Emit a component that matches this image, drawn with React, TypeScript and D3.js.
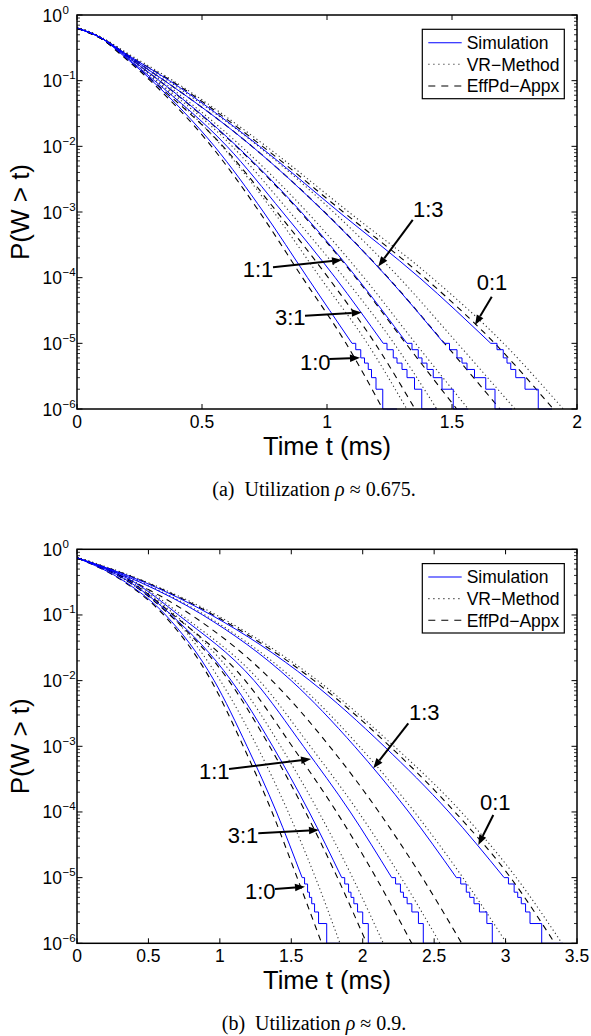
import React from "react";
import * as d3 from "d3";

type Pt = [number, number];
type Note = { label: string; text: Pt; from: Pt; to: Pt };

// order of the curves in every group below: 1:0, 3:1, 1:1, 1:3, 0:1

// ---------- (a) utilization 0.675 ----------
const xTicksA = [0, 0.5, 1, 1.5, 2];

const simA: Pt[][] = [
  [[0, 0.63], [0.1, 0.44], [0.18, 0.25], [0.3, 0.1], [0.55, 0.01], [0.746, 1e-3], [0.922, 1e-4], [1.1, 1e-5]],
  [[0, 0.63], [0.1, 0.44], [0.185, 0.25], [0.31, 0.1], [0.6, 0.01], [0.822, 1e-3], [1.033, 1e-4], [1.225, 1e-5]],
  [[0, 0.63], [0.1, 0.44], [0.19, 0.25], [0.33, 0.1], [0.64, 0.01], [0.897, 1e-3], [1.119, 1e-4], [1.32, 1e-5]],
  [[0, 0.63], [0.1, 0.44], [0.195, 0.25], [0.35, 0.1], [0.7, 0.01], [0.989, 1e-3], [1.243, 1e-4], [1.468, 1e-5]],
  [[0, 0.63], [0.1, 0.44], [0.2, 0.25], [0.37, 0.1], [0.73, 0.01], [1.048, 1e-3], [1.37, 1e-4], [1.655, 1e-5]],
];

// stair-shaped tails of the simulated curves (few samples left)
const simTailA: Pt[][] = [
  [[1.1, 1e-5], [1.115, 8e-6], [1.135, 6e-6], [1.15, 5e-6], [1.165, 4e-6], [1.178, 3e-6], [1.196, 2e-6], [1.223, 1e-6], [1.28, 1e-6]],
  [[1.225, 1e-5], [1.24, 8e-6], [1.265, 6e-6], [1.28, 5e-6], [1.3, 4e-6], [1.32, 3e-6], [1.35, 2e-6], [1.379, 1e-6], [1.44, 1e-6]],
  [[1.32, 1e-5], [1.34, 8e-6], [1.365, 6e-6], [1.38, 5e-6], [1.4, 4e-6], [1.425, 3e-6], [1.46, 2e-6], [1.505, 1e-6], [1.565, 1e-6]],
  [[1.468, 1e-5], [1.49, 8e-6], [1.52, 6e-6], [1.54, 5e-6], [1.56, 4e-6], [1.59, 3e-6], [1.635, 2e-6], [1.672, 1e-6], [1.74, 1e-6]],
  [[1.655, 1e-5], [1.68, 8e-6], [1.705, 6e-6], [1.72, 5e-6], [1.735, 4e-6], [1.755, 3e-6], [1.792, 2e-6], [1.845, 1e-6], [1.9, 1e-6]],
];

const vrA: Pt[][] = [
  [[0, 0.65], [0.1, 0.45], [0.19, 0.25], [0.317, 0.1], [0.58, 0.01], [0.787, 1e-3], [0.973, 1e-4], [1.161, 1e-5], [1.319, 1e-6]],
  [[0, 0.65], [0.1, 0.45], [0.195, 0.25], [0.321, 0.1], [0.621, 0.01], [0.851, 1e-3], [1.069, 1e-4], [1.268, 1e-5], [1.439, 1e-6]],
  [[0, 0.65], [0.1, 0.45], [0.2, 0.25], [0.339, 0.1], [0.657, 0.01], [0.92, 1e-3], [1.148, 1e-4], [1.354, 1e-5], [1.565, 1e-6]],
  [[0, 0.65], [0.1, 0.45], [0.205, 0.25], [0.363, 0.1], [0.726, 0.01], [1.026, 1e-3], [1.289, 1e-4], [1.522, 1e-5], [1.752, 1e-6]],
  [[0, 0.65], [0.1, 0.45], [0.21, 0.25], [0.384, 0.1], [0.757, 0.01], [1.087, 1e-3], [1.42, 1e-4], [1.706, 1e-5], [1.945, 1e-6]],
];

const effA: Pt[][] = [
  [[0, 0.63], [0.1, 0.43], [0.175, 0.25], [0.293, 0.1], [0.538, 0.01], [0.73, 1e-3], [0.902, 1e-4], [1.076, 1e-5], [1.223, 1e-6]],
  [[0, 0.63], [0.1, 0.43], [0.18, 0.25], [0.302, 0.1], [0.584, 0.01], [0.8, 1e-3], [1.005, 1e-4], [1.192, 1e-5], [1.352, 1e-6]],
  [[0, 0.63], [0.1, 0.43], [0.19, 0.25], [0.329, 0.1], [0.637, 0.01], [0.893, 1e-3], [1.115, 1e-4], [1.315, 1e-5], [1.519, 1e-6]],
  [[0, 0.63], [0.1, 0.43], [0.195, 0.25], [0.35, 0.1], [0.7, 0.01], [0.99, 1e-3], [1.244, 1e-4], [1.47, 1e-5], [1.692, 1e-6]],
  [[0, 0.63], [0.1, 0.44], [0.2, 0.25], [0.376, 0.1], [0.742, 0.01], [1.065, 1e-3], [1.39, 1e-4], [1.671, 1e-5], [1.905, 1e-6]],
];

// annotation points as [t, log10 P]
const notesA: Note[] = [
  { label: "1:3", text: [1.344, -3.08], from: [1.343, -3.12], to: [1.205, -3.83] },
  { label: "1:1", text: [0.663, -3.99], from: [0.784, -3.84], to: [1.06, -3.73] },
  { label: "3:1", text: [0.792, -4.72], from: [0.912, -4.58], to: [1.139, -4.53] },
  { label: "1:0", text: [0.892, -5.41], from: [1.009, -5.24], to: [1.132, -5.22] },
  { label: "0:1", text: [1.599, -4.19], from: [1.659, -4.29], to: [1.592, -4.72] },
];

// ---------- (b) utilization 0.9 ----------
const xTicksB = [0, 0.5, 1, 1.5, 2, 2.5, 3, 3.5];

const simB: Pt[][] = [
  [[0, 0.74], [0.34, 0.316], [0.62, 0.1], [0.96, 0.01], [1.19, 1e-3], [1.396, 1e-4], [1.576, 1e-5]],
  [[0, 0.74], [0.37, 0.316], [0.66, 0.1], [1.08, 0.01], [1.37, 1e-3], [1.625, 1e-4], [1.853, 1e-5]],
  [[0, 0.74], [0.4, 0.316], [0.71, 0.1], [1.24, 0.01], [1.585, 1e-3], [1.913, 1e-4], [2.203, 1e-5]],
  [[0, 0.74], [0.44, 0.316], [0.88, 0.1], [1.5, 0.01], [1.943, 1e-3], [2.322, 1e-4], [2.656, 1e-5]],
  [[0, 0.74], [0.47, 0.316], [0.94, 0.1], [1.63, 0.01], [2.15, 1e-3], [2.603, 1e-4], [2.99, 1e-5]],
];

const simTailB: Pt[][] = [
  [[1.576, 1e-5], [1.593, 8e-6], [1.614, 6e-6], [1.627, 5e-6], [1.643, 4e-6], [1.663, 3e-6], [1.691, 2e-6], [1.748, 1e-6], [1.841, 1e-6]],
  [[1.853, 1e-5], [1.874, 8e-6], [1.901, 6e-6], [1.918, 5e-6], [1.938, 4e-6], [1.964, 3e-6], [2.0, 2e-6], [2.039, 1e-6], [2.133, 1e-6]],
  [[2.203, 1e-5], [2.23, 8e-6], [2.264, 6e-6], [2.285, 5e-6], [2.311, 4e-6], [2.344, 3e-6], [2.39, 2e-6], [2.424, 1e-6], [2.518, 1e-6]],
  [[2.656, 1e-5], [2.686, 8e-6], [2.725, 6e-6], [2.749, 5e-6], [2.779, 4e-6], [2.817, 3e-6], [2.869, 2e-6], [2.907, 1e-6], [2.985, 1e-6]],
  [[2.99, 1e-5], [3.02, 8e-6], [3.06, 6e-6], [3.085, 5e-6], [3.11, 4e-6], [3.14, 3e-6], [3.171, 2e-6], [3.253, 1e-6], [3.4, 1e-6]],
];

const vrB: Pt[][] = [
  [[0, 0.76], [0.36, 0.316], [0.657, 0.1], [1.003, 0.01], [1.26, 1e-3], [1.478, 1e-4], [1.669, 1e-5], [1.841, 1e-6]],
  [[0, 0.76], [0.385, 0.316], [0.687, 0.1], [1.124, 0.01], [1.426, 1e-3], [1.692, 1e-4], [1.929, 1e-5], [2.144, 1e-6]],
  [[0, 0.76], [0.412, 0.316], [0.731, 0.1], [1.277, 0.01], [1.633, 1e-3], [1.97, 1e-4], [2.269, 1e-5], [2.541, 1e-6]],
  [[0, 0.76], [0.447, 0.316], [0.895, 0.1], [1.526, 0.01], [1.976, 1e-3], [2.362, 1e-4], [2.701, 1e-5], [3.008, 1e-6]],
  [[0, 0.76], [0.49, 0.316], [0.975, 0.1], [1.685, 0.01], [2.22, 1e-3], [2.69, 1e-4], [3.075, 1e-5], [3.395, 1e-6]],
];

const effB: Pt[][] = [
  [[0, 0.74], [0.333, 0.316], [0.607, 0.1], [0.939, 0.01], [1.164, 1e-3], [1.365, 1e-4], [1.541, 1e-5], [1.713, 1e-6]],
  [[0, 0.74], [0.364, 0.316], [0.65, 0.1], [1.063, 0.01], [1.348, 1e-3], [1.599, 1e-4], [1.823, 1e-5], [2.028, 1e-6]],
  [[0, 0.74], [0.38, 0.316], [0.675, 0.1], [1.178, 0.01], [1.506, 1e-3], [1.817, 1e-4], [2.093, 1e-5], [2.343, 1e-6]],
  [[0, 0.74], [0.4, 0.316], [0.8, 0.1], [1.365, 0.01], [1.768, 1e-3], [2.113, 1e-4], [2.417, 1e-5], [2.693, 1e-6]],
  [[0, 0.74], [0.48, 0.316], [0.955, 0.1], [1.66, 0.01], [2.19, 1e-3], [2.645, 1e-4], [3.035, 1e-5], [3.345, 1e-6]],
];

const notesB: Note[] = [
  { label: "1:3", text: [2.324, -2.6], from: [2.319, -2.65], to: [2.074, -3.335] },
  { label: "1:1", text: [0.854, -3.5], from: [1.064, -3.346], to: [1.638, -3.193] },
  { label: "3:1", text: [1.055, -4.47], from: [1.269, -4.325], to: [1.694, -4.274] },
  { label: "1:0", text: [1.176, -5.32], from: [1.386, -5.173], to: [1.596, -5.138] },
  { label: "0:1", text: [2.821, -3.97], from: [2.914, -4.046], to: [2.809, -4.503] },
];

const yExponents = [0, -1, -2, -3, -4, -5, -6];
const legendLabels = ["Simulation", "VR\u2212Method", "EffPd\u2212Appx"];

const LEFT = 77;
const PW = 500;
const PH = 394;
const SANS = "'Liberation Sans', Arial, Helvetica, sans-serif";
const SERIF = "'Liberation Serif', 'Times New Roman', serif";
const BLUE = "#0000ff";

function Panel(props: {
  top: number;
  xMax: number;
  xTicks: number[];
  sim: Pt[][];
  tail: Pt[][];
  vr: Pt[][];
  eff: Pt[][];
  notes: Note[];
  tag: string;
  rho: string;
}) {
  const { top, xMax, xTicks, sim, tail, vr, eff, notes, tag, rho } = props;
  const right = LEFT + PW;
  const bottom = top + PH;
  const x = d3.scaleLinear().domain([0, xMax]).range([LEFT, right]);
  const y = d3.scaleLog().domain([1e-6, 1]).range([bottom, top]);

  const smooth = d3
    .line<Pt>()
    .x((d) => x(d[0]))
    .y((d) => y(d[1]))
    .curve(d3.curveMonotoneX);
  const stairs = d3
    .line<Pt>()
    .x((d) => x(d[0]))
    .y((d) => y(d[1]))
    .curve(d3.curveStepAfter);

  const minor: number[] = [];
  for (let e = -6; e < 0; e++) {
    for (let k = 2; k <= 9; k++) minor.push(k * Math.pow(10, e));
  }

  const clipId = "clip-" + tag;
  const ax = (p: Pt) => x(p[0]);
  const ay = (p: Pt) => y(Math.pow(10, p[1]));

  // legend box
  const lx0 = right - 154.7;
  const ly0 = top + 14.3;
  const rowY = [27.7, 49.3, 71].map((v) => top + v);

  return (
    <g>
      <defs>
        <clipPath id={clipId}>
          <rect x={LEFT} y={top - 1} width={PW} height={PH + 2} />
        </clipPath>
      </defs>

      {/* curves */}
      <g clipPath={`url(#${clipId})`} fill="none">
        {vr.map((d, i) => (
          <path key={"vr" + i} d={smooth(d) || ""} stroke="#333" strokeWidth={1.1} strokeDasharray="1.2 2.8" />
        ))}
        {eff.map((d, i) => (
          <path key={"ef" + i} d={smooth(d) || ""} stroke="#000" strokeWidth={1.1} strokeDasharray="6 5" />
        ))}
        {sim.map((d, i) => (
          <path key={"sm" + i} d={smooth(d) || ""} stroke={BLUE} strokeWidth={1} />
        ))}
        {tail.map((d, i) => (
          <path key={"st" + i} d={stairs(d) || ""} stroke={BLUE} strokeWidth={1} />
        ))}
      </g>

      {/* axes box */}
      <rect x={LEFT} y={top} width={PW} height={PH} fill="none" stroke="#000" strokeWidth={1.5} />

      {/* x ticks */}
      {xTicks.map((t) => (
        <g key={"xt" + t}>
          <line x1={x(t)} x2={x(t)} y1={bottom} y2={bottom - 5} stroke="#000" strokeWidth={1} />
          <line x1={x(t)} x2={x(t)} y1={top} y2={top + 5} stroke="#000" strokeWidth={1} />
          <text x={x(t)} y={bottom + 19} textAnchor="middle" fontFamily={SANS} fontSize={17.5}>
            {String(t)}
          </text>
        </g>
      ))}

      {/* y ticks */}
      {yExponents.map((e) => {
        const yy = y(Math.pow(10, e));
        return (
          <g key={"yt" + e}>
            <line x1={LEFT} x2={LEFT + 5.5} y1={yy} y2={yy} stroke="#000" strokeWidth={1} />
            <line x1={right} x2={right - 5.5} y1={yy} y2={yy} stroke="#000" strokeWidth={1} />
            <text x={62} y={yy + 6.5} textAnchor="end" fontFamily={SANS} fontSize={17.5}>
              10
            </text>
            <text x={62.5} y={yy - 1.5} fontFamily={SANS} fontSize={11.5}>
              {e === 0 ? "0" : "\u2212" + String(-e)}
            </text>
          </g>
        );
      })}
      {minor.map((v, i) => (
        <g key={"mn" + i}>
          <line x1={LEFT} x2={LEFT + 3} y1={y(v)} y2={y(v)} stroke="#000" strokeWidth={0.8} />
          <line x1={right} x2={right - 3} y1={y(v)} y2={y(v)} stroke="#000" strokeWidth={0.8} />
        </g>
      ))}

      {/* axis labels */}
      <text x={LEFT + PW / 2} y={bottom + 46} textAnchor="middle" fontFamily={SANS} fontSize={25.5}>
        Time t (ms)
      </text>
      <text
        transform={`translate(29,${top + PH / 2}) rotate(-90)`}
        textAnchor="middle"
        fontFamily={SANS}
        fontSize={26}
      >
        {"P(W > t)"}
      </text>

      {/* annotations */}
      {notes.map((n) => {
        const x1 = ax(n.from);
        const y1 = ay(n.from);
        const x2 = ax(n.to);
        const y2 = ay(n.to);
        const ang = Math.atan2(y2 - y1, x2 - x1);
        const hl = 10;
        const hw = 3.8;
        const bx = x2 - hl * Math.cos(ang);
        const by = y2 - hl * Math.sin(ang);
        const px = -Math.sin(ang) * hw;
        const py = Math.cos(ang) * hw;
        return (
          <g key={"nt" + n.label}>
            <text x={ax(n.text)} y={ay(n.text)} fontFamily={SANS} fontSize={22}>
              {n.label}
            </text>
            <line x1={x1} y1={y1} x2={bx} y2={by} stroke="#000" strokeWidth={2} />
            <polygon points={`${x2},${y2} ${bx + px},${by + py} ${bx - px},${by - py}`} fill="#000" />
          </g>
        );
      })}

      {/* legend */}
      <rect x={lx0} y={ly0} width={142} height={69.4} fill="#fff" stroke="#000" strokeWidth={1.2} />
      {legendLabels.map((lab, i) => (
        <g key={"lg" + i}>
          <line
            x1={right - 148.7}
            x2={right - 115.3}
            y1={rowY[i]}
            y2={rowY[i]}
            stroke={i === 0 ? BLUE : i === 1 ? "#333" : "#000"}
            strokeWidth={1.1}
            strokeDasharray={i === 0 ? undefined : i === 1 ? "1.2 3.8" : "7 6"}
          />
          <text x={right - 110.3} y={rowY[i] + 6.2} fontFamily={SANS} fontSize={17.5}>
            {lab}
          </text>
        </g>
      ))}

      {/* caption */}
      <text x={314} y={bottom + 86.5} textAnchor="middle" fontFamily={SERIF} fontSize={20} style={{ whiteSpace: "pre" }}>
        {`(${tag})  Utilization `}
        <tspan fontStyle="italic">{"\u03c1"}</tspan>
        {` \u2248 ${rho}.`}
      </text>
    </g>
  );
}

export default function App() {
  return (
    <svg
      width={591}
      height={1036}
      viewBox="0 0 591 1036"
      style={{ position: "absolute", left: 0, top: 0, background: "#fff" }}
    >
      <rect x={0} y={0} width={591} height={1036} fill="#fff" />
      <Panel top={15} xMax={2} xTicks={xTicksA} sim={simA} tail={simTailA} vr={vrA} eff={effA} notes={notesA} tag="a" rho="0.675" />
      <Panel top={549.3} xMax={3.5} xTicks={xTicksB} sim={simB} tail={simTailB} vr={vrB} eff={effB} notes={notesB} tag="b" rho="0.9" />
    </svg>
  );
}
